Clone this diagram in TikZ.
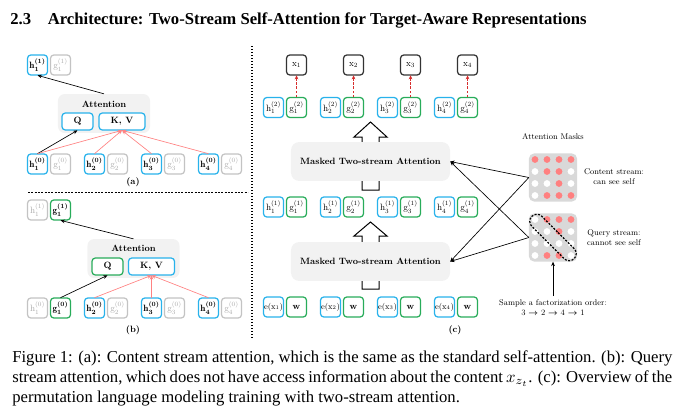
\documentclass[tikz,border=0pt]{standalone}
\usepackage{fontspec}
\usepackage{amsmath}
\newfontfamily\timesfont{Liberation Serif}
\usetikzlibrary{arrows.meta,positioning,shapes.misc}
\definecolor{cellblue}{RGB}{40,178,235}
\definecolor{cellgreen}{RGB}{40,172,90}
\definecolor{offgray}{RGB}{195,195,195}
\definecolor{offtext}{RGB}{170,170,170}
\definecolor{boxgray}{RGB}{242,242,242}
\definecolor{maskgray}{RGB}{217,217,217}
\definecolor{dotred}{RGB}{255,128,128}
\definecolor{linkred}{RGB}{255,130,130}
\definecolor{dashred}{RGB}{215,45,45}
\newcommand{\hlab}[2]{$\mathrm{h}_{#1}^{(#2)}$}
\newcommand{\glab}[2]{$\mathrm{g}_{#1}^{(#2)}$}
\tikzset{
  cell/.style={draw,fill=white,rounded corners=2pt,line width=0.75pt,minimum size=21.8pt,inner sep=0pt,font=\normalsize},
  hcell/.style={cell,draw=cellblue},
  gcell/.style={cell,draw=cellgreen},
  offcell/.style={cell,draw=offgray,text=offtext},
  xcell/.style={cell,draw=black!80},
  oncell/.style={font=\normalsize\boldmath},
  attnbox/.style={fill=boxgray,rounded corners=4pt,minimum width=100.4pt,minimum height=42.5pt},
  qkv/.style={draw,fill=white,rounded corners=2pt,line width=0.75pt,minimum height=18.5pt,inner sep=0pt,font=\bfseries},
  mtsa/.style={fill=boxgray,rounded corners=5pt,minimum width=173.5pt,minimum height=42.5pt,font=\bfseries},
  maskbox/.style={fill=maskgray,rounded corners=3pt,minimum size=52.4pt},
  conn/.style={line width=0.4pt,-{Stealth[length=2.6pt,width=2.2pt]}},
  redconn/.style={conn,draw=linkred},
  outdash/.style={draw=dashred,line width=0.7pt,dash pattern=on 1.5pt off 1pt,-{Stealth[length=2.4pt,width=2.2pt]}},
  bigarrow/.style={draw,fill=white,line width=0.6pt}
}
\begin{document}
\begin{tikzpicture}[x=0.6pt,y=-0.6pt]
\useasboundingbox (0,0) rectangle (679,413);
\node[anchor=base west,inner sep=0pt,font=\timesfont\bfseries] (title) at (10,24)
{2.3\quad Architecture: Two-Stream Self-Attention for Target-Aware Representations};
%%%%%%%%%%%%%%%%
\begin{scope}[scale=0.55,x=1.0909pt,y=-1.0909pt,every node/.append style={transform shape}]
% (a) content stream
\node[hcell,oncell] (ah1) at (37.5,65) {\hlab{1}{1}};
\node[offcell] (ag1) at (60.5,65) {\glab{1}{1}};
\node[attnbox] (attA) at (104,113.5) {};
\node[font=\bfseries] (attAt) at (104,104) {Attention};
\node[qkv,draw=cellblue,minimum width=33.8pt] (qA) at (77.5,121.5) {Q};
\node[qkv,draw=cellblue,minimum width=50.2pt] (kvA) at (122,121.5) {K, V};
\foreach \i in {1,...,4} {
  \node[hcell,oncell] (ah0\i) at (-19.5+57*\i,164) {\hlab{\i}{0}};
  \node[offcell] (ag0\i) at (3.5+57*\i,164) {\glab{\i}{0}};
}
\draw[conn] (attA.north) -- (ah1.south);
\draw[conn] (ah01.north) -- (qA.south);
\foreach \i in {1,...,4} \draw[redconn] (ah0\i.north) -- (kvA.south);
\node[font=\bfseries] (labA) at (133,182) {(a)};
%%%%%%%%%%%%%%%%
\draw[dash pattern=on 1.2pt off 0.8pt,line width=0.6pt] (28,192) -- (248,192);
%%%%%%%%%%%%%%%%
% (b) query stream
\node[offcell] (bh1) at (37.5,210) {\hlab{1}{1}};
\node[gcell,oncell] (bg1) at (60.5,210) {\glab{1}{1}};
\node[attnbox] (attB) at (133.5,258.5) {};
\node[font=\bfseries] (attBt) at (133.5,248.5) {Attention};
\node[qkv,draw=cellgreen,minimum width=33.8pt] (qB) at (107.5,266.5) {Q};
\node[qkv,draw=cellblue,minimum width=50.2pt] (kvB) at (151.5,266.5) {K, V};
\node[offcell] (bh01) at (37.5,308) {\hlab{1}{0}};
\node[gcell,oncell] (bg01) at (60.5,308) {\glab{1}{0}};
\foreach \i in {2,3,4} {
  \node[hcell,oncell] (bh0\i) at (-19.5+57*\i,308) {\hlab{\i}{0}};
  \node[offcell] (bg0\i) at (3.5+57*\i,308) {\glab{\i}{0}};
}
\draw[conn] (attB.north) -- (bg1.south);
\draw[conn] (bg01.north) -- (qB.south);
\foreach \i in {2,3,4} \draw[redconn] (bh0\i.north) -- (kvB.south);
\node[font=\bfseries] (labB) at (133,330) {(b)};
%%%%%%%%%%%%%%%%
\draw[densely dotted,line width=0.8pt] (252,46) -- (252,340);
%%%%%%%%%%%%%%%%
% (c) overview
\draw[bigarrow] (362,190) -- (362,137) -- (354,137) -- (370.5,122) -- (387,137) -- (379,137) -- (379,190) -- cycle;
\draw[bigarrow] (362,289) -- (362,236) -- (354,236) -- (370.5,222) -- (387,236) -- (379,236) -- (379,289) -- cycle;
\node[mtsa] (mtsa1) at (370.5,161.5) {Masked Two-stream Attention};
\node[mtsa] (mtsa2) at (370.5,261.5) {Masked Two-stream Attention};
\foreach \i in {1,...,4} {
  \node[xcell] (x\i) at (239.5+57*\i,65) {$\mathrm{x}_{\i}$};
  \node[hcell] (ch2\i) at (216.5+57*\i,107.5) {\hlab{\i}{2}};
  \node[gcell] (cg2\i) at (239.5+57*\i,107.5) {\glab{\i}{2}};
  \draw[outdash] (cg2\i.north) -- (x\i.south);
  \node[hcell] (ch1\i) at (216.5+57*\i,207) {\hlab{\i}{1}};
  \node[gcell] (cg1\i) at (239.5+57*\i,207) {\glab{\i}{1}};
  \node[hcell,font=\small] (ce\i) at (216.5+57*\i,307) {e(x$_{\i}$)};
  \node[gcell,font=\bfseries] (cw\i) at (239.5+57*\i,307) {w};
}
\node[font=\bfseries] (labC) at (455,330) {(c)};
%%%%%%%%%%%%%%%%
% attention masks
\node[font=\small] (mtitle) at (553,137) {Attention Masks};
\node[maskbox] (mask1) at (553,177.5) {};
\node[maskbox] (mask2) at (553,237.5) {};
\foreach \row [count=\j] in {{1,1,1,1},{0,1,1,0},{0,0,1,0},{0,1,1,1}} {
  \foreach \v [count=\i] in \row {
    \ifnum\v=1 \fill[dotred] (523+12*\i,147.5+12*\j) circle (3.4);
    \else \fill[white] (523+12*\i,147.5+12*\j) circle (3.4); \fi
  }
}
\foreach \row [count=\j] in {{0,1,1,1},{0,0,1,0},{0,0,0,0},{0,1,1,0}} {
  \foreach \v [count=\i] in \row {
    \ifnum\v=1 \fill[dotred] (523+12*\i,207.5+12*\j) circle (3.4);
    \else \fill[white] (523+12*\i,207.5+12*\j) circle (3.4); \fi
  }
}
\node[rounded rectangle,draw,dash pattern=on 1.2pt off 0.9pt,line width=0.7pt,rotate=-45,minimum width=72pt,minimum height=15.5pt] (diag) at (553,237.5) {};
\node[font=\small,align=center] (ctext) at (614,177) {Content stream:\\can see self};
\node[font=\small,align=center] (qtext) at (614,238) {Query stream:\\cannot see self};
\node[font=\small,align=center] (order) at (553,307.5) {Sample a factorization order:\\3 {\boldmath$\rightarrow$} 2 {\boldmath$\rightarrow$} 4 {\boldmath$\rightarrow$} 1};
\draw[conn] (order.north) -- (mask2.south);
\draw[conn] (mask1.west) -- (mtsa1.east);
\draw[conn] (mask1.west) -- (mtsa2.east);
\draw[conn] (mask2.west) -- (mtsa1.east);
\draw[conn] (mask2.west) -- (mtsa2.east);
\end{scope}
%%%%%%%%%%%%%%%%
\node[anchor=north west,inner sep=0pt,text width=396pt,align=justify,font=\timesfont] (caption) at (12,350)
{Figure 1: (a): Content stream attention, which is the same as the standard self-attention. (b): Query\linebreak
stream attention, which does not have access information about the content $x_{z_t}$. (c): Overview of the\linebreak
permutation language modeling training with two-stream attention.};
\end{tikzpicture}
\end{document}
